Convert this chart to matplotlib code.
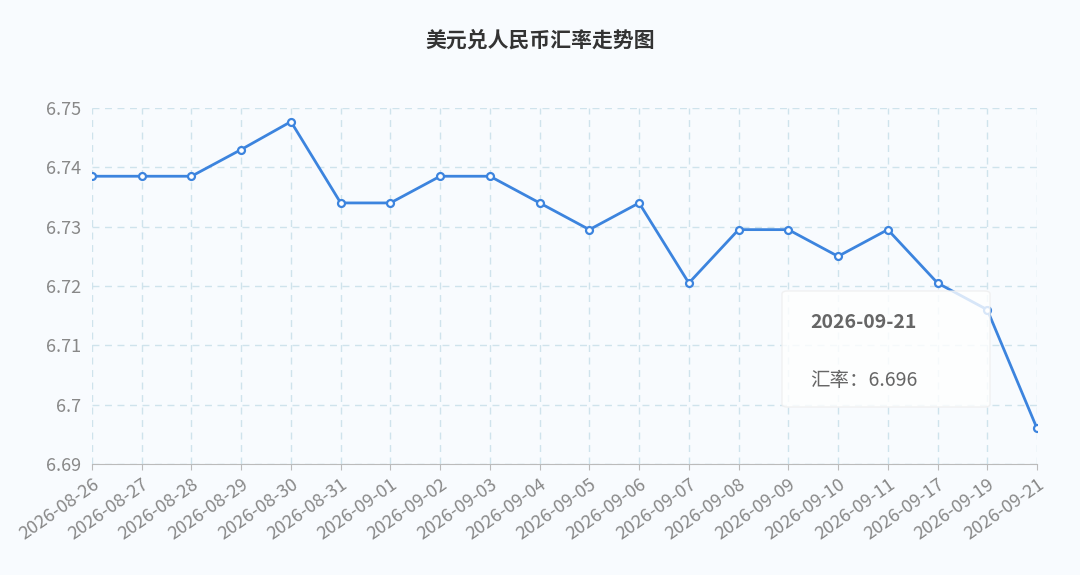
import matplotlib.pyplot as plt
from matplotlib.patches import FancyBboxPatch

plt.rcParams['font.family'] = ['Noto Sans CJK SC', 'DejaVu Sans']

dates = ['2026-08-26', '2026-08-27', '2026-08-28', '2026-08-29', '2026-08-30',
         '2026-08-31', '2026-09-01', '2026-09-02', '2026-09-03', '2026-09-04',
         '2026-09-05', '2026-09-06', '2026-09-07', '2026-09-08', '2026-09-09',
         '2026-09-10', '2026-09-11', '2026-09-17', '2026-09-19', '2026-09-21']
rates = [6.7385, 6.7385, 6.7385, 6.743, 6.7477, 6.734, 6.734, 6.7385, 6.7385, 6.734,
         6.7295, 6.734, 6.7205, 6.7295, 6.7295, 6.725, 6.7295, 6.7205, 6.716, 6.696]
yticks = [6.69, 6.70, 6.71, 6.72, 6.73, 6.74, 6.75]
ylabels = ['6.69', '6.7', '6.71', '6.72', '6.73', '6.74', '6.75']

bg = '#f8fbfe'
fig = plt.figure(figsize=(10.8, 5.75), dpi=100, facecolor=bg)
ax = fig.add_axes([92 / 1080, 1 - 464 / 575, 945 / 1080, 356 / 575], facecolor=bg)

x = list(range(len(dates)))
ax.plot(x, rates, color='#3c84de', lw=2, marker='o', ms=5,
        mfc='white', mec='#3c84de', mew=1.6, zorder=3)

ax.set_xlim(0, len(dates) - 1)
ax.set_ylim(6.69, 6.75)
ax.set_yticks(yticks)
ax.set_yticklabels(ylabels)
ax.set_xticks(x)
ax.set_xticklabels(dates, rotation=35, ha='right', rotation_mode='anchor')
ax.tick_params(axis='both', colors='#888888', labelsize=13, length=4)
ax.tick_params(axis='y', length=0, pad=8)
ax.tick_params(axis='x', color='#bbbbbb', pad=4)
ax.grid(True, color='#cfe3ec', ls=(0, (5, 4)), lw=1)
for s in ['top', 'right', 'left']:
    ax.spines[s].set_visible(False)
ax.spines['bottom'].set_color('#bbbbbb')

fig.text(0.5, 1 - 40 / 575, '美元兑人民币汇率走势图', ha='center', va='center',
         fontsize=15, fontweight='bold', color='#333333')

# tooltip
box = FancyBboxPatch((782 / 1080, 1 - 407 / 575), 208 / 1080, 116 / 575,
                     boxstyle='round,pad=0,rounding_size=0.005',
                     transform=fig.transFigure, fc='white', ec='#eeeeee',
                     alpha=0.8, zorder=5)
fig.patches.append(box)
fig.text(810 / 1080, 1 - 322 / 575, '2026-09-21', fontsize=14, fontweight='bold',
         color='#666666', va='center', zorder=6)
fig.text(810 / 1080, 1 - 380 / 575, '汇率：6.696', fontsize=14,
         color='#666666', va='center', zorder=6)

fig.savefig('out.png', dpi=100, facecolor=bg)
